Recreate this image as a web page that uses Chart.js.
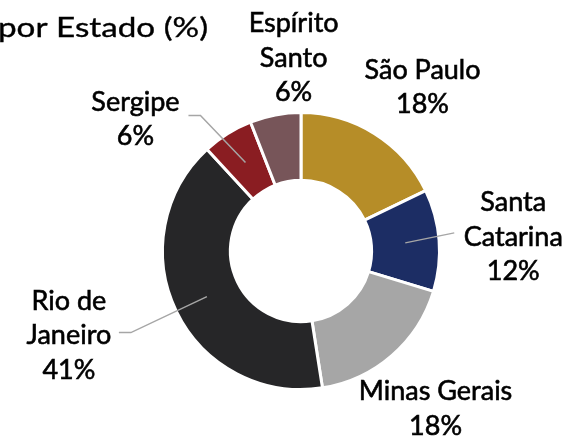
<!DOCTYPE html>
<html>
<head>
<meta charset="utf-8">
<script src="https://cdn.jsdelivr.net/npm/chart.js@4"></script>
<style>
    html, body { margin: 0; padding: 0; background: #ffffff; }
    #wrap { width: 570px; height: 437px; position: relative; }
</style>
</head>
<body>
<div id="wrap"><canvas id="stateChart"></canvas></div>
<script>
// Data
const titleText = 'por Estado (%)';
const states = ['São Paulo', 'Santa Catarina', 'Minas Gerais', 'Rio de Janeiro', 'Sergipe', 'Espírito Santo'];
const shares = [18, 12, 18, 41, 6, 6];
const labelLines = [
    ['São Paulo', '18%'],
    ['Santa', 'Catarina', '12%'],
    ['Minas Gerais', '18%'],
    ['Rio de', 'Janeiro', '41%'],
    ['Sergipe', '6%'],
    ['Espírito', 'Santo', '6%']
];
const colors = ['#b68d28', '#1c2d64', '#a6a6a6', '#262628', '#8a1d22', '#775559'];

// Label placement relative to the middle of each ring segment (style only)
const labelPlace = [
    { dx: 66, dy: -75, leader: null },
    { dx: 108, dy: -6, leader: [[49, -10]] },
    { dx: 66, dy: 79, leader: null },
    { dx: -138, dy: 39, leader: [[-76, 36], [-88, 36]] },
    { dx: -110, dy: -43, leader: [[-45, -47], [-57, -47]] },
    { dx: 12, dy: -90, leader: null }
];

const fontFamily = 'Lato, "DejaVu Sans", sans-serif';

// draw text a bit heavier, the source font has thicker strokes
function heavyText(ctx, t, x, y) {
    ctx.fillText(t, x, y);
    ctx.strokeText(t, x, y);
}

const outsideLabels = {
    id: 'outsideLabels',
    afterDraw(chart) {
        const ctx = chart.ctx;
        const meta = chart.getDatasetMeta(0);
        ctx.save();
        ctx.fillStyle = '#000000';
        ctx.strokeStyle = '#000000';
        ctx.textBaseline = 'middle';

        // Title (cut off at the left edge, as in the source image), stretched to the wider source font
        ctx.save();
        const stretch = 1.23;
        ctx.scale(stretch, 1);
        ctx.font = '27px ' + fontFamily;
        ctx.textAlign = 'right';
        ctx.lineWidth = 0.35;
        heavyText(ctx, titleText, 208 / stretch, 28);
        ctx.restore();

        ctx.lineWidth = 0.6;
        meta.data.forEach((arc, i) => {
            const p = arc.getProps(['x', 'y', 'startAngle', 'endAngle', 'innerRadius', 'outerRadius'], true);
            const mid = (p.startAngle + p.endAngle) / 2;
            const r = (p.innerRadius + p.outerRadius) / 2;
            const mx = p.x + Math.cos(mid) * r;
            const my = p.y + Math.sin(mid) * r;
            const place = labelPlace[i];

            if (place.leader) {
                ctx.save();
                ctx.strokeStyle = '#a6a6a6';
                ctx.lineWidth = 1.5;
                ctx.beginPath();
                ctx.moveTo(mx, my);
                place.leader.forEach(pt => ctx.lineTo(mx + pt[0], my + pt[1]));
                ctx.stroke();
                ctx.restore();
            }

            const lines = labelLines[i];
            const lineH = 34.5;
            const cx = mx + place.dx;
            const cy = my + place.dy;
            ctx.font = '27px ' + fontFamily;
            ctx.textAlign = 'center';
            lines.forEach((t, k) => {
                heavyText(ctx, t, cx, cy + (k - (lines.length - 1) / 2) * lineH);
            });
        });
        ctx.restore();
    }
};

new Chart(document.getElementById('stateChart'), {
    type: 'doughnut',
    data: {
        labels: states,
        datasets: [{
            data: shares,
            backgroundColor: colors,
            borderColor: '#ffffff',
            borderWidth: 3
        }]
    },
    options: {
        responsive: true,
        maintainAspectRatio: false,
        animation: false,
        cutout: '51%',
        layout: {
            padding: { left: 161, right: 129, top: 111, bottom: 46 }
        },
        plugins: {
            legend: { display: false },
            tooltip: { enabled: false }
        }
    },
    plugins: [outsideLabels]
});
</script>
</body>
</html>
